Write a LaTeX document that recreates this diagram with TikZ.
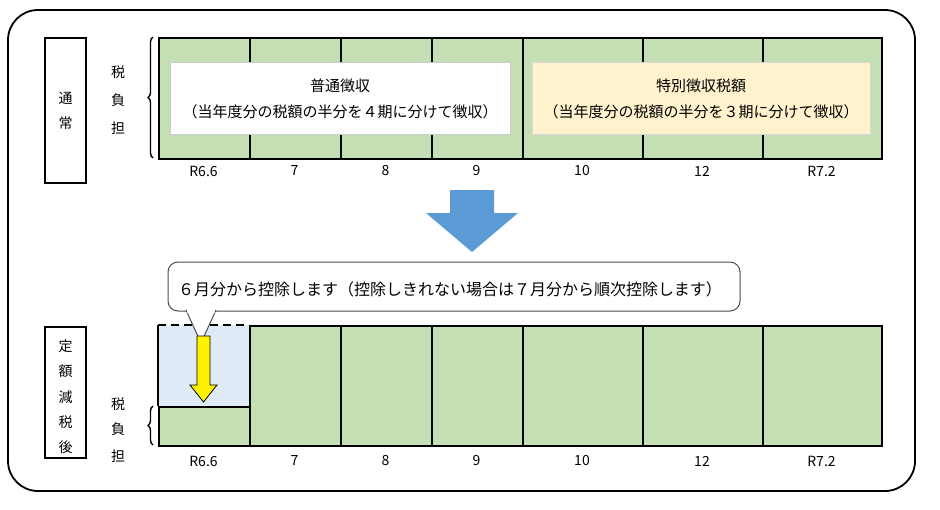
\documentclass[tikz,border=0pt]{standalone}
\usepackage{fontspec}
\setmainfont{Noto Sans CJK JP}
\usetikzlibrary{decorations.pathreplacing}
\definecolor{cellg}{HTML}{C5DFB4}
\definecolor{cellb}{HTML}{DEEBF7}
\definecolor{yel}{HTML}{FFF2CC}
\definecolor{bluea}{HTML}{5B9BD5}
\begin{document}
\begin{tikzpicture}[x=1pt,y=-1pt,font=\fontsize{14}{16}\selectfont,
 cell/.style={draw,line width=2pt,fill=cellg},
 lab/.style={inner sep=0pt},
 wide/.style={font=\fontsize{15}{17}\selectfont},
 brc/.style={decorate,decoration={brace,amplitude=5pt},line width=1.4pt}]
\useasboundingbox (0,0) rectangle (940,509);
\draw[line width=1.8pt,rounded corners=30pt] (8,10) rectangle (915,491);
% top
\node[draw,line width=1.2pt,minimum width=41pt,minimum height=145pt,lab] (lt) at (65.5,110.5) {};
\node[lab] at (65.5,98) {通}; \node[lab] at (65.5,123) {常};
\foreach \t/\yy in {税/72,負/100,担/128} \node[lab] at (118,\yy) {\t};
\draw[brc] (153,158) -- (153,37);
\foreach \a/\b/\l [count=\i] in {158/249/R6.6,249/340/7,340/431/8,431/522/9,522/642/10,642/762/12,762/881/R7.2}{
 \node[cell,minimum width=\b-\a,minimum height=121,anchor=north west,inner sep=0] (t\i) at (\a,37) {};
 \node[lab] (tl\i) at ({(\a+\b)/2},171) {\l};
}
\node[fill=white,draw=gray!40,minimum width=340,minimum height=72,anchor=north west,inner sep=0] (wb) at (170,62) {};
\node[lab,wide] at (340,86) {普通徴収};
\node[lab,wide] at (340,112) {（当年度分の税額の半分を４期に分けて徴収）};
\node[fill=yel,draw=gray!30,minimum width=338,minimum height=72,anchor=north west,inner sep=0] (yb) at (532,62) {};
\node[lab,wide] at (701,86) {特別徴収税額};
\node[lab,wide] at (701,112) {（当年度分の税額の半分を３期に分けて徴収）};
% big arrow
\fill[bluea] (450,190) -- (494,190) -- (494,213) -- (518,213) -- (472,252) -- (426,213) -- (450,213) -- cycle;
% bottom
\node[draw,line width=1.2pt,minimum width=41pt,minimum height=131pt,lab] (lb) at (65.5,392.5) {};
\foreach \t/\yy in {定/346,額/371,減/397,税/422,後/447} \node[lab] at (65.5,\yy) {\t};
\foreach \t/\yy in {税/404,負/429,担/456} \node[lab] at (118,\yy) {\t};
\draw[brc] (153,445) -- (153,406);
\fill[cellb] (158,325) rectangle (249,406);
\draw[line width=2pt,dash pattern=on 8pt off 5pt] (158,325) -- (249,325);
\draw[line width=2pt] (158,325) -- (158,406);
\node[cell,minimum width=91,minimum height=39,anchor=north west,inner sep=0] (b1) at (158,406) {};
\node[lab] at (203.5,461) {R6.6};
\foreach \a/\b/\l [count=\i] in {249/340/7,340/431/8,431/522/9,522/642/10,642/762/12,762/881/R7.2}{
 \node[cell,minimum width=\b-\a,minimum height=120,anchor=north west,inner sep=0] (b\i) at (\a,325) {};
 \node[lab] at ({(\a+\b)/2},461) {\l};
}
% callout
\draw[fill=white,draw=black!70,line width=1pt,rounded corners=10pt] (186,311) -- (168,311) -- (168,262) -- (740,262) -- (740,311) -- (216,311);
\draw[fill=white,draw=black!70,line width=1pt] (186,310) -- (201,343) -- (216,310);
\fill[white] (187,309) rectangle (215,312.5);
\node[lab,font=\fontsize{16}{18}\selectfont] (co) at (450,289) {６月分から控除します（控除しきれない場合は７月分から順次控除します）};
% yellow arrow
\draw[fill=yellow,line width=0.8pt] (197,336) -- (210,336) -- (210,385) -- (217,385) -- (203.5,402) -- (190,385) -- (197,385) -- cycle;
\end{tikzpicture}
\end{document}
